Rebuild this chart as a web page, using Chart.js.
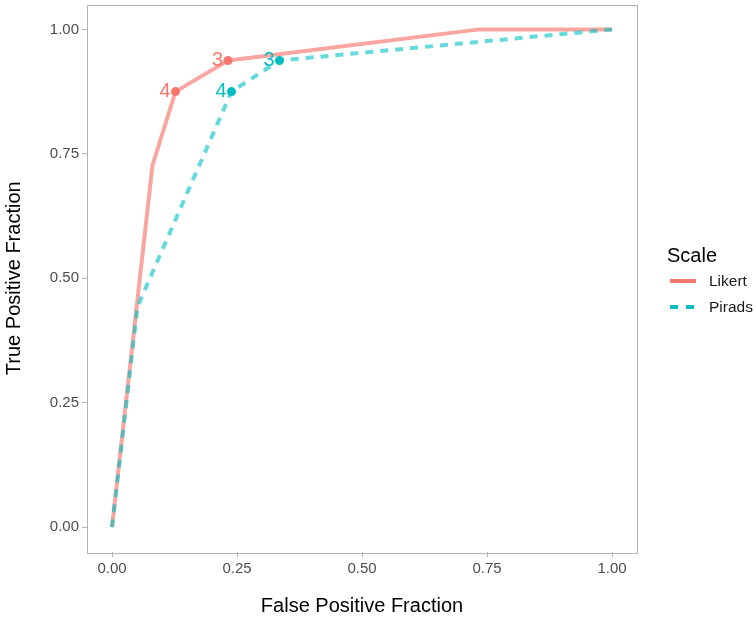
<!DOCTYPE html>
<html>
<head>
<meta charset="utf-8">
<script src="https://cdn.jsdelivr.net/npm/chart.js@4/dist/chart.umd.min.js"></script>
<style>
  html, body { margin: 0; padding: 0; background: #ffffff; }
  #wrap { width: 756px; height: 620px; }
</style>
</head>
<body>
<div id="wrap"><canvas id="c" width="756" height="620"></canvas></div>
<script>
// ---- data ----
const seriesNames = ["Likert", "Pirads"];
const likertFPF = [0, 0.081, 0.127, 0.232, 0.735, 1];
const likertTPF = [0, 0.727, 0.875, 0.9375, 1, 1];
const piradsFPF = [0, 0.051, 0.239, 0.335, 1];
const piradsTPF = [0, 0.443, 0.875, 0.9375, 1];
// labelled cut-off points
const likertCutFPF = [0.127, 0.232];
const likertCutTPF = [0.875, 0.9375];
const likertCutLabels = ["4", "3"];
const piradsCutFPF = [0.239, 0.335];
const piradsCutTPF = [0.875, 0.9375];
const piradsCutLabels = ["4", "3"];
const tickValues = [0, 0.25, 0.5, 0.75, 1];
const xTitle = "False Positive Fraction";
const yTitle = "True Positive Fraction";
const legendTitle = "Scale";

const RED = "#F8766D", TEAL = "#00BFC4";
const RED_A = "rgba(248,118,109,0.65)", TEAL_A = "rgba(0,191,196,0.6)";
const FONT = "'Liberation Sans', Arial, Helvetica, sans-serif";
const GRAY = "#b3b3b3";

const toPts = (xs, ys) => xs.map((x, i) => ({ x: x, y: ys[i] }));

const borderPlugin = {
  id: "panelBorder",
  afterDraw(chart) {
    const { ctx, chartArea: a } = chart;
    ctx.save();
    ctx.strokeStyle = GRAY;
    ctx.lineWidth = 1;
    ctx.strokeRect(Math.round(a.left) + 0.5, Math.round(a.top) + 0.5,
                   Math.round(a.right - a.left), Math.round(a.bottom - a.top));
    ctx.restore();
  }
};

const labelPlugin = {
  id: "cutLabels",
  afterDatasetsDraw(chart) {
    const { ctx } = chart;
    ctx.save();
    ctx.font = "20px " + FONT;
    ctx.textAlign = "right";
    ctx.textBaseline = "middle";
    chart.data.datasets.forEach((ds, di) => {
      if (!ds.cutLabels) return;
      const meta = chart.getDatasetMeta(di);
      ctx.fillStyle = ds.backgroundColor;
      meta.data.forEach((el, i) => {
        ctx.fillText(ds.cutLabels[i], el.x - 5, el.y);
      });
    });
    ctx.restore();
  }
};

const legendPlugin = {
  id: "customLegend",
  afterDraw(chart) {
    const { ctx } = chart;
    ctx.save();
    ctx.fillStyle = "#000000";
    ctx.font = "20px " + FONT;
    ctx.textAlign = "left";
    ctx.textBaseline = "middle";
    ctx.fillText(legendTitle, 667, 256);
    const items = [
      { name: seriesNames[0], color: RED, dash: [] , y: 281 },
      { name: seriesNames[1], color: TEAL, dash: [8, 8], y: 307 }
    ];
    items.forEach(it => {
      ctx.strokeStyle = it.color;
      ctx.lineWidth = 4;
      ctx.setLineDash(it.dash);
      ctx.beginPath();
      ctx.moveTo(670, it.y);
      ctx.lineTo(696, it.y);
      ctx.stroke();
      ctx.setLineDash([]);
      ctx.fillStyle = "#1a1a1a";
      ctx.font = "15.5px " + FONT;
      ctx.fillText(it.name, 709, it.y + 1);
    });
    ctx.restore();
  }
};

const fixedTicks = (scale) => { scale.ticks = tickValues.map(v => ({ value: v })); };

new Chart(document.getElementById("c"), {
  type: "scatter",
  data: {
    datasets: [
      {
        label: "LikertCuts",
        data: toPts(likertCutFPF, likertCutTPF),
        cutLabels: likertCutLabels,
        backgroundColor: RED, borderColor: RED,
        pointRadius: 4.5, pointBorderWidth: 0, showLine: false, order: 0
      },
      {
        label: "PiradsCuts",
        data: toPts(piradsCutFPF, piradsCutTPF),
        cutLabels: piradsCutLabels,
        backgroundColor: TEAL, borderColor: TEAL,
        pointRadius: 4.5, pointBorderWidth: 0, showLine: false, order: 1
      },
      {
        label: seriesNames[1],
        data: toPts(piradsFPF, piradsTPF),
        showLine: true, borderColor: TEAL_A, borderWidth: 4,
        borderDash: [8, 7], pointRadius: 0, tension: 0, order: 2,
        borderCapStyle: "butt", borderJoinStyle: "round"
      },
      {
        label: seriesNames[0],
        data: toPts(likertFPF, likertTPF),
        showLine: true, borderColor: RED_A, borderWidth: 4,
        pointRadius: 0, tension: 0, order: 3,
        borderCapStyle: "butt", borderJoinStyle: "round"
      }
    ]
  },
  options: {
    responsive: false,
    devicePixelRatio: 1,
    animation: false,
    layout: { padding: { left: 0, right: 119, top: 0, bottom: 0 } },
    plugins: { legend: { display: false }, tooltip: { enabled: false } },
    scales: {
      x: {
        type: "linear", min: -0.05, max: 1.05,
        afterBuildTicks: fixedTicks,
        afterFit(scale) { scale.height = 68; scale.paddingLeft = 0; scale.paddingRight = 0; },
        border: { display: false },
        grid: { drawOnChartArea: false, drawTicks: true, tickLength: 5, color: GRAY, tickColor: GRAY },
        ticks: {
          padding: 3, color: "#4d4d4d", maxRotation: 0,
          font: { family: FONT, size: 15 },
          callback: v => Number(v).toFixed(2)
        },
        title: {
          display: true, text: xTitle, color: "#000000",
          font: { family: FONT, size: 20 }, padding: { top: 0, bottom: 2 }
        }
      },
      y: {
        type: "linear", min: -0.05, max: 1.05,
        afterBuildTicks: fixedTicks,
        afterFit(scale) { scale.width = 87; scale.paddingTop = 0; scale.paddingBottom = 0; },
        border: { display: false },
        grid: { drawOnChartArea: false, drawTicks: true, tickLength: 5, color: GRAY, tickColor: GRAY },
        ticks: {
          padding: 3, color: "#4d4d4d",
          font: { family: FONT, size: 15 },
          callback: v => Number(v).toFixed(2)
        },
        title: {
          display: true, text: yTitle, color: "#000000",
          font: { family: FONT, size: 20 }, padding: { top: 2, bottom: 0 }
        }
      }
    }
  },
  plugins: [borderPlugin, labelPlugin, legendPlugin]
});
</script>
</body>
</html>
